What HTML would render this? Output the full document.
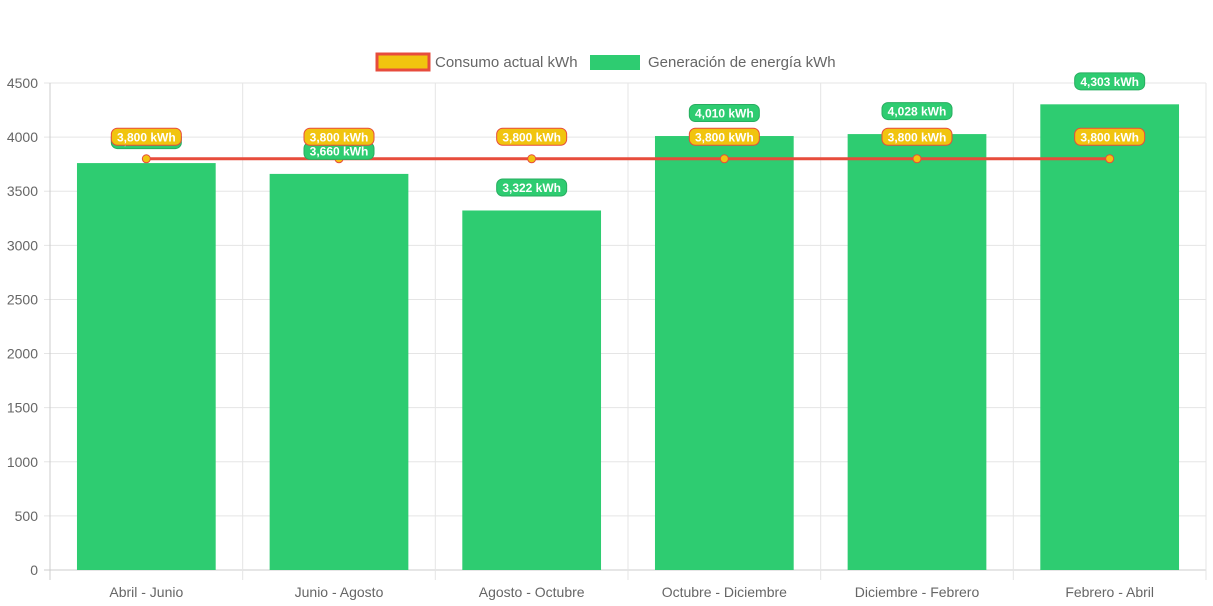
<!DOCTYPE html>
<html><head><meta charset="utf-8">
<style>
html,body{margin:0;padding:0;background:#fff;}
svg{display:block;font-family:"Liberation Sans",Arial,sans-serif;}
</style></head>
<body>
<svg id="chart" width="1213" height="606" viewBox="0 0 1213 606">
  <g id="legend">
    <g>
      <rect x="377" y="54" width="52" height="16" fill="#f1c40f" stroke="#e74c3c" stroke-width="3"/>
      <text x="435" y="67" font-size="15" fill="#666">Consumo actual kWh</text>
    </g>
    <g>
      <rect x="590" y="55" width="50" height="15" fill="#2ecc71"/>
      <text x="648" y="67" font-size="15" fill="#666">Generación de energía kWh</text>
    </g>
  </g>
  <g id="grid"></g>
  <g id="bars"></g>
  <g id="line"></g>
  <g id="labels"></g>
</svg>
<script>
const categories = ["Abril - Junio","Junio - Agosto","Agosto - Octubre","Octubre - Diciembre","Diciembre - Febrero","Febrero - Abril"];
const generacion = [3760, 3660, 3322, 4010, 4028, 4303];
const consumo = [3800, 3800, 3800, 3800, 3800, 3800];
const yTicks = [0,500,1000,1500,2000,2500,3000,3500,4000,4500];

const NS="http://www.w3.org/2000/svg";
const L=50,R=1206,T=83,B=570,yMax=4500;
const band=(R-L)/categories.length;
const x=i=>L+band*(i+0.5);
const y=v=>B-(v/yMax)*(B-T);
function mk(tag,attrs,parent){const e=document.createElementNS(NS,tag);for(const k in attrs)e.setAttribute(k,attrs[k]);parent.appendChild(e);return e;}
const grid=document.getElementById('grid'),bars=document.getElementById('bars'),line=document.getElementById('line'),labels=document.getElementById('labels');

yTicks.forEach(t=>{
  const l=mk('line',{x1:L-6,x2:R,y1:y(t),y2:y(t),stroke:t===0?'#ccc':'#e5e5e5','stroke-width':1},grid);
  
  
  const tx=mk('text',{x:L-12,y:y(t)+5,'text-anchor':'end','font-size':14,fill:'#666'},grid);
  tx.textContent=t;
  
  
});
for(let i=0;i<=categories.length;i++){
  const gx=L+band*i;
  const l=mk('line',{x1:gx,x2:gx,y1:T,y2:B+10,stroke:i===0?'#ccc':'#e5e5e5','stroke-width':1},grid);
  
  
}
categories.forEach((c,i)=>{
  const tx=mk('text',{x:x(i),y:597,'text-anchor':'middle','font-size':14,fill:'#666'},grid);
  tx.textContent=c;
  
  
});
const bw=band*0.72;
generacion.forEach((v,i)=>{
  const r=mk('rect',{x:x(i)-bw/2,y:y(v),width:bw,height:B-y(v),fill:'#2ecc71'},bars);
  
  
});
const pts=consumo.map((v,i)=>x(i)+','+y(v)).join(' ');
const pl=mk('polyline',{points:pts,fill:'none',stroke:'#e74c3c','stroke-width':3},line);


consumo.forEach((v,i)=>{
  const c=mk('circle',{cx:x(i),cy:y(v),r:4,fill:'#f1c40f',stroke:'#e74c3c','stroke-width':1},line);
  
  
});
function badge(cx,cy,text,fill,stroke){
  const g=mk('g',{},labels);
  
  
  mk('rect',{x:cx-35,y:cy-8.5,width:70,height:17,rx:6,fill:fill,stroke:stroke,'stroke-width':1},g);
  const t=mk('text',{x:cx,y:cy+4.5,'text-anchor':'middle','font-size':12,'font-weight':'bold',fill:'#fff'},g);
  t.textContent=text;
}
const fmt=v=>v.toLocaleString('en-US')+' kWh';
generacion.forEach((v,i)=>badge(x(i),y(v)-23,fmt(v),'#2ecc71','#27ae60'));
consumo.forEach((v,i)=>badge(x(i),y(v)-22,fmt(v),'#f1c40f','#e74c3c'));
</script>
</body></html>
